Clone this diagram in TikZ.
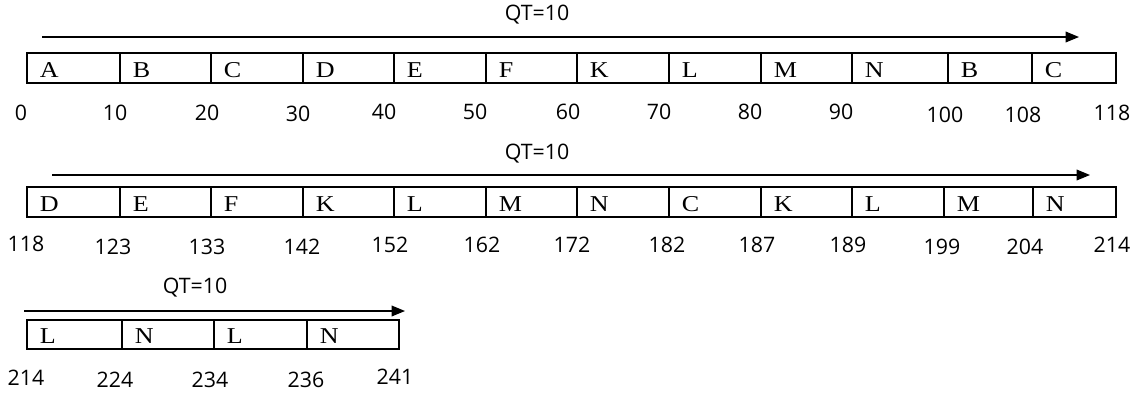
\documentclass[tikz,border=0pt]{standalone}
\usepackage{fontspec}
\setmainfont{Liberation Serif}[FakeStretch=1.15]
\newfontfamily\numfont{Open Sans}
\usetikzlibrary{arrows.meta}
\begin{document}
\begin{tikzpicture}[x=0.75pt,y=-0.75pt,
  cell/.style={draw,line width=1pt},
  lab/.style={font=\fontsize{17}{20}\selectfont,anchor=base west,inner sep=0pt},
  num/.style={font=\numfont\fontsize{16}{18}\selectfont,inner sep=0pt},
  qt/.style={font=\numfont\fontsize{16}{18}\selectfont,inner sep=0pt},
  timeline/.style={line width=1pt,-{Triangle[length=10pt,width=8pt]}}]
\useasboundingbox (0,0) rectangle (1136,394);

% ---- first row: 0 .. 118 ----
\node[qt] (qt1) at (537,15) {QT=10};
\coordinate (a1s) at (42,37);
\coordinate (a1e) at (1079,37);
\draw[timeline] (a1s) -- (a1e);
\foreach \x/\nx/\t [count=\i] in {27/120/A,120/211/B,211/303/C,303/394/D,394/486/E,486/577/F,577/669/K,669/761/L,761/852/M,852/948/N,948/1032/B,1032/1116/C}{
  \draw[cell] (\x,53) rectangle (\nx,83);
  \node[lab] (r1c\i) at (\x+12.5,77) {\t};
}
\foreach \x/\y/\t [count=\i] in {21/113/0,115/113/10,207/113/20,298/114/30,384/112/40,475/112/50,568/112/60,659/112/70,750/112/80,841/112/90,945/115/100,1023/115/108,1112/113/118}{
  \node[num] (r1n\i) at (\x,\y) {\t};
}

% ---- second row: 118 .. 214 ----
\node[qt] (qt2) at (537,154) {QT=10};
\coordinate (a2s) at (52,175);
\coordinate (a2e) at (1090,175);
\draw[timeline] (a2s) -- (a2e);
\foreach \x/\nx/\t [count=\i] in {27/120/D,120/211/E,211/303/F,303/394/K,394/486/L,486/577/M,577/669/N,669/761/C,761/852/K,852/944/L,944/1033/M,1033/1116/N}{
  \draw[cell] (\x,187) rectangle (\nx,217);
  \node[lab] (r2c\i) at (\x+12.5,211) {\t};
}
\foreach \x/\y/\t [count=\i] in {26/244/118,113/247/123,207/247/133,302/247/142,390/245/152,482/245/162,572/245/172,667/245/182,757/245/187,848/245/189,942/247/199,1025/247/204,1112/245/214}{
  \node[num] (r2n\i) at (\x,\y) {\t};
}

% ---- third row: 214 .. 241 ----
\node[qt] (qt3) at (195,288) {QT=10};
\coordinate (a3s) at (24,311);
\coordinate (a3e) at (405,311);
\draw[timeline] (a3s) -- (a3e);
\foreach \x/\nx/\t [count=\i] in {27/122/L,122/214/N,214/307/L,307/399/N}{
  \draw[cell] (\x,320) rectangle (\nx,349);
  \node[lab] (r3c\i) at (\x+12.5,343) {\t};
}
\foreach \x/\y/\t [count=\i] in {26/378/214,115/380/224,210/380/234,306/380/236,395/377/241}{
  \node[num] (r3n\i) at (\x,\y) {\t};
}
\end{tikzpicture}
\end{document}
